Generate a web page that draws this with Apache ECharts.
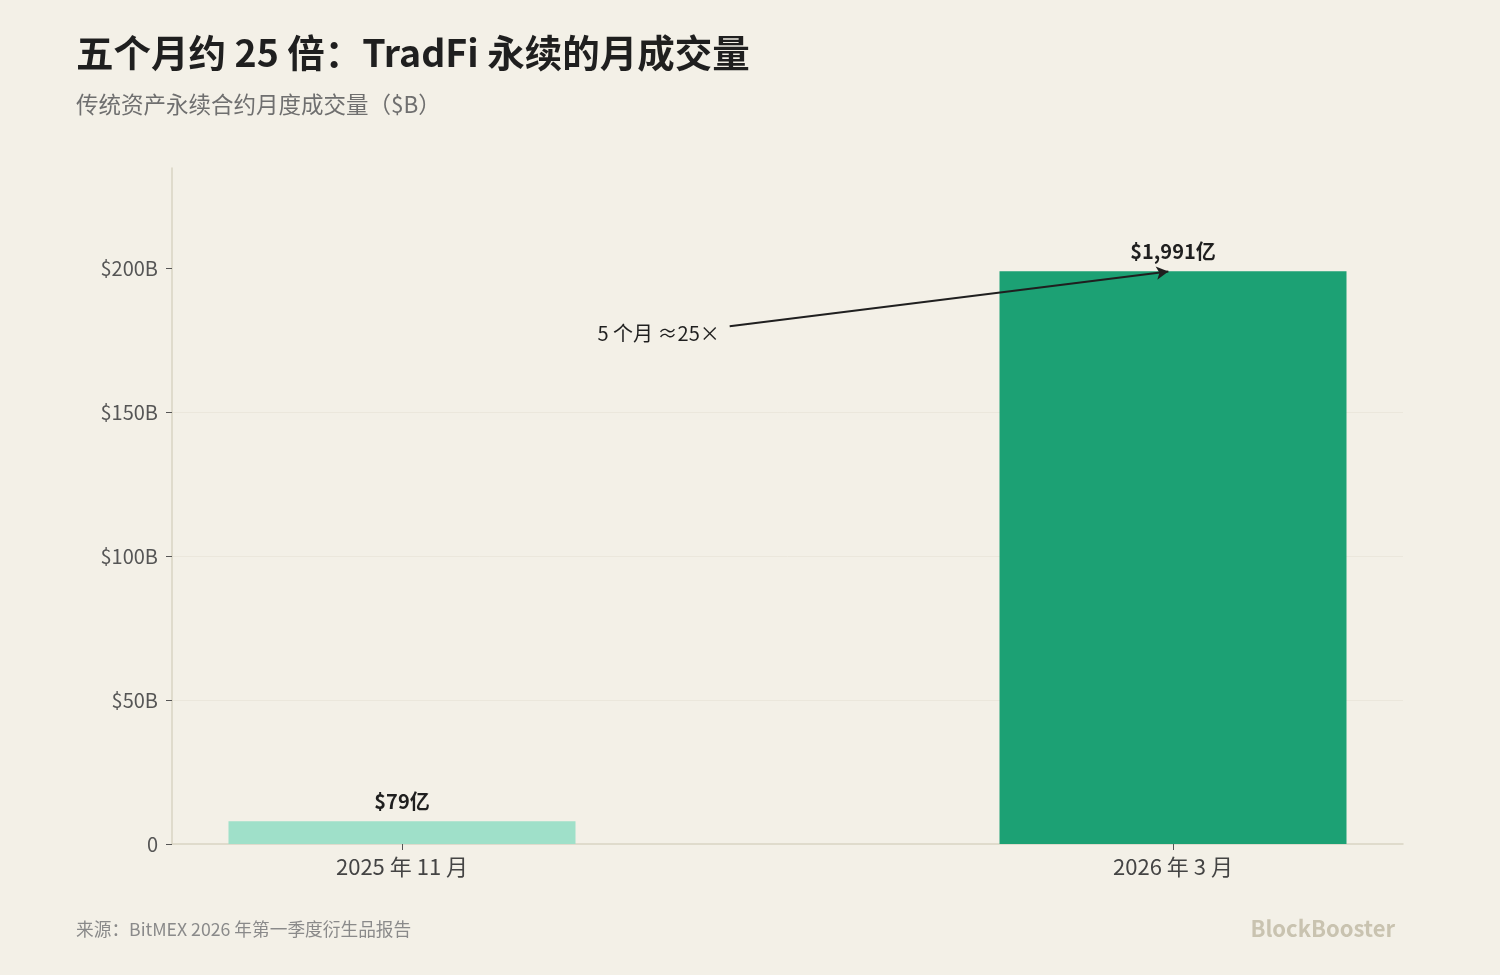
<!DOCTYPE html><html><head><meta charset="utf-8">
<script src="https://cdn.jsdelivr.net/npm/echarts@6/dist/echarts.min.js"></script>
<style>html,body{margin:0;background:#f3f0e7}#c{width:1500px;height:975px}</style></head><body><div id="c"></div>
<script>
const categories=['2025 年 11 月','2026 年 3 月'];
const values=[7.9,199.1];
const valueLabels=['$79亿','$1,991亿'];
const barColors=['#9fe0c9','#1ca174'];
const yTicks=[0,50,100,150,200];
const arrowFrom=[0.425,180];const arrowTo=[0.994,199];
const F='"Noto Sans CJK SC","Noto Sans",sans-serif';
const chart=echarts.init(document.getElementById('c'));
chart.setOption({
backgroundColor:'#f3f0e7',textStyle:{fontFamily:F},
title:[{text:'五个月约 25 倍：TradFi 永续的月成交量',left:71,top:29,textStyle:{fontSize:37.5,fontWeight:'bold',color:'#1f1f1f',fontFamily:F}},
{text:'传统资产永续合约月度成交量（$B）',left:71,top:88,textStyle:{fontSize:22.5,fontWeight:'normal',color:'#6f6f6f',fontFamily:F}},
{text:'来源：BitMEX 2026 年第一季度衍生品报告',left:71,top:915,textStyle:{fontSize:17.7,fontWeight:'normal',color:'#8a8a8a',fontFamily:F}},
{text:'BlockBooster',right:100,top:913,textStyle:{fontSize:22,fontWeight:'bold',color:'#c9c3b0',fontFamily:F}}],
grid:{left:172,right:97,top:168,bottom:131},
xAxis:{type:'value',min:-0.2983,max:1.2983,splitLine:{show:false},
axisLine:{onZero:false,lineStyle:{color:'#d9d4c3',width:1.5}},
axisTick:{show:true,customValues:[0,1],length:6,lineStyle:{color:'#555'}},
axisLabel:{customValues:[0,1],formatter:v=>categories[Math.round(v)],fontSize:22,color:'#444',margin:12}},
yAxis:{type:'value',min:0,max:235,interval:50,
axisLine:{show:true,onZero:false,lineStyle:{color:'#d9d4c3',width:1.5}},
axisTick:{show:true,customValues:yTicks,length:6,lineStyle:{color:'#555'}},
axisLabel:{customValues:yTicks,fontSize:20,color:'#555',margin:14,formatter:v=>v===0?'0':'$'+v+'B'},
splitLine:{showMaxLine:false,showMinLine:false,lineStyle:{color:'#ebe7dc'}}},
series:[{type:'bar',barWidth:347,data:values.map((v,i)=>({value:[i,v],itemStyle:{color:barColors[i]},label:{show:true,position:'top',distance:10,formatter:valueLabels[i],fontSize:20,fontWeight:'bold',color:'#1f1f1f'}})),
markLine:{silent:true,symbol:['none','arrow'],symbolSize:[10,12],lineStyle:{color:'#1f1f1f',width:2,type:'solid'},
label:{show:true,position:'start',formatter:'5 个月 ≈25×',fontSize:20,color:'#1f1f1f',distance:[10,0],offset:[0,7]},
data:[[{coord:arrowFrom},{coord:arrowTo}]]}}]
});
</script></body></html>
